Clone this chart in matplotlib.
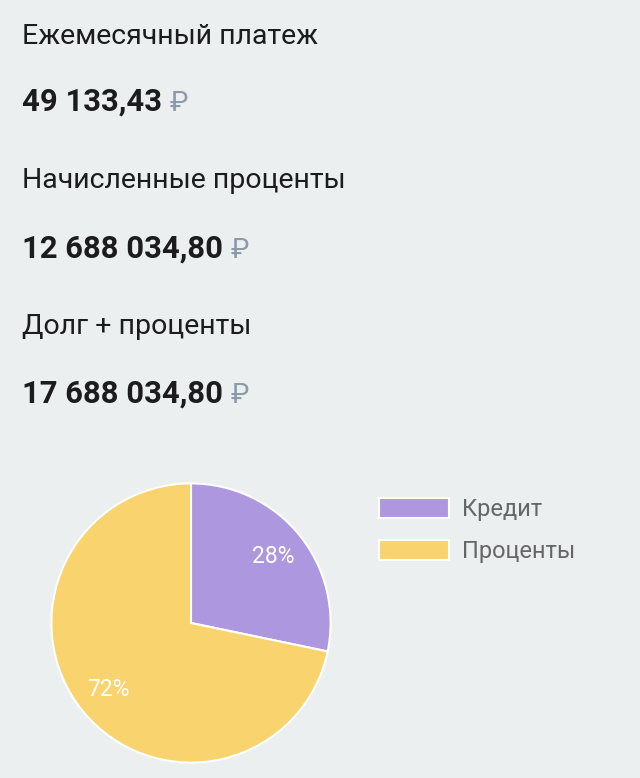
import matplotlib.pyplot as plt

# Data
labels = ['Кредит', 'Проценты']
amounts = [5000000.00, 12688034.80]
headers = ['Ежемесячный платеж', 'Начисленные проценты', 'Долг + проценты']
values = ['49 133,43', '12 688 034,80', '17 688 034,80']

colors = ['#ad98e0', '#f9d46e']
bg = '#ebeff0'

plt.rcParams['font.family'] = ['Roboto', 'DejaVu Sans']

W, H = 640, 778
fig = plt.figure(figsize=(W / 100, H / 100), dpi=100, facecolor=bg)

# header block
head_base = [44, 188, 334]
val_base = [111, 258, 403]
for h, v, yh, yv in zip(headers, values, head_base, val_base):
    fig.text(22 / W, 1 - yh / H, h, fontsize=20.5, color='#1c1c1c', va='baseline')
    t = fig.text(22 / W, 1 - yv / H, v, fontsize=22.3, fontweight='bold',
                 color='#1c1c1c', va='baseline')
    fig.canvas.draw()
    bb = t.get_window_extent()
    fig.text((bb.x1 + 8) / W, 1 - yv / H, '₽', fontsize=20, color='#8c9aa8',
             va='baseline')

# pie
cx, cy, r = 191, 623, 141
ax = fig.add_axes([(cx - r) / W, (H - cy - r) / H, 2 * r / W, 2 * r / H])
ax.set_facecolor(bg)
wedges, texts, autotexts = ax.pie(
    amounts, colors=colors, startangle=90, counterclock=False,
    autopct='%1.0f%%', pctdistance=0.76,
    wedgeprops=dict(edgecolor='white', linewidth=1.5),
    textprops=dict(color='white', fontsize=16.5))
ax.set_xlim(-1.01, 1.01)
ax.set_ylim(-1.01, 1.01)
ax.set_aspect('equal')
ax.axis('off')

fig.legend(wedges, labels, loc='upper left',
           bbox_to_anchor=(358 / W, 1 - 477 / H), frameon=False,
           fontsize=17, labelcolor='#666666',
           handlelength=2.97, handleheight=0.93, handletextpad=0.55,
           labelspacing=0.8)

fig.savefig('out.png', dpi=100, facecolor=bg)
